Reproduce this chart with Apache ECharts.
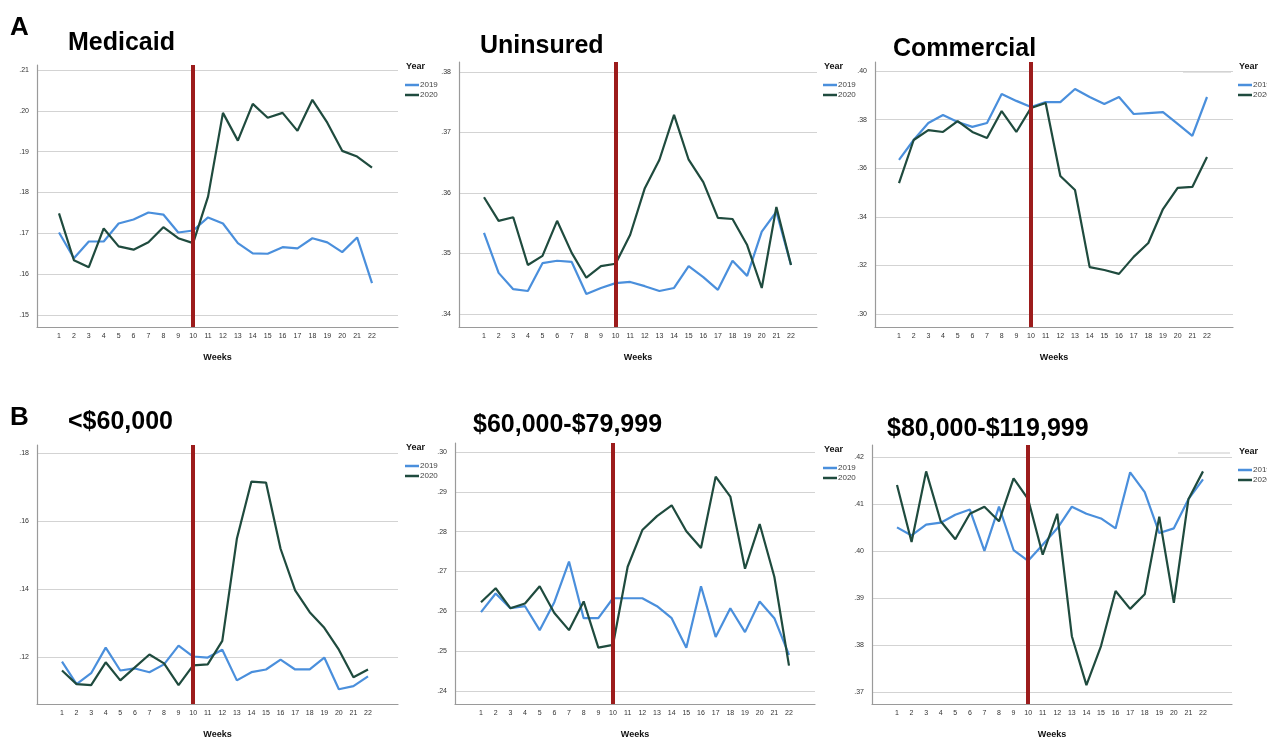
<!DOCTYPE html>
<html><head><meta charset="utf-8">
<script src="https://cdn.jsdelivr.net/npm/echarts@6/dist/echarts.min.js"></script>
<style>html,body{margin:0;padding:0;background:#fff}#c{width:1267px;height:740px}</style>
</head><body><div id="c"></div>
<script>
// ---- data ----
const weeks = [1,2,3,4,5,6,7,8,9,10,11,12,13,14,15,16,17,18,19,20,21,22];
const years = ['2019','2020'];
const titles = ['Medicaid','Uninsured','Commercial','<$60,000','$60,000-$79,999','$80,000-$119,999'];
const interventionWeek = 10;

const medicaid2019 = [.1702,.1639,.1680,.1680,.1724,.1734,.1751,.1746,.1702,.1707,.1739,.1724,.1676,.1651,.1650,.1666,.1663,.1688,.1678,.1654,.1690,.1578];
const medicaid2020 = [.1749,.1634,.1617,.1712,.1668,.1660,.1678,.1715,.1688,.1676,.1790,.1995,.1927,.2017,.1983,.1995,.1951,.2027,.1971,.1902,.1888,.1861];
const uninsured2019 = [.3534,.3468,.3441,.3438,.3484,.3488,.3486,.3433,.3443,.3451,.3453,.3446,.3438,.3443,.3479,.3461,.3440,.3488,.3463,.3536,.3569,.3481];
const uninsured2020 = [.3593,.3554,.3560,.3481,.3496,.3554,.3501,.3460,.3479,.3483,.3531,.3608,.3655,.3729,.3655,.3618,.3559,.3557,.3514,.3443,.3577,.3481];
const commercial2019 = [.3634,.3716,.3786,.3819,.3790,.3770,.3786,.3905,.3877,.3852,.3872,.3872,.3926,.3893,.3864,.3893,.3823,.3827,.3831,.3782,.3733,.3893];
const commercial2020 = [.3539,.3716,.3757,.3749,.3794,.3749,.3724,.3835,.3749,.3848,.3868,.3568,.3510,.3193,.3181,.3165,.3235,.3292,.3432,.3519,.3523,.3646];
const incUnder60k2019 = [.1188,.1122,.1154,.1229,.1162,.1168,.1157,.1180,.1235,.1203,.1200,.1223,.1133,.1157,.1165,.1194,.1165,.1165,.1200,.1107,.1116,.1145];
const incUnder60k2020 = [.1162,.1122,.1119,.1186,.1133,.1171,.1209,.1183,.1119,.1177,.1180,.1249,.1548,.1716,.1713,.1519,.1397,.1333,.1287,.1223,.1142,.1165];
const inc60to80k2019 = [.2598,.2645,.2608,.2613,.2553,.2623,.2725,.2583,.2583,.2633,.2633,.2633,.2613,.2583,.2509,.2663,.2536,.2608,.2548,.2625,.2583,.2491];
const inc60to80k2020 = [.2623,.2658,.2608,.2620,.2663,.2596,.2553,.2625,.2509,.2516,.2712,.2804,.2839,.2866,.2801,.2759,.2938,.2888,.2707,.2819,.2687,.2464];
const inc80to120k2019 = [.4050,.4033,.4056,.4060,.4077,.4088,.4000,.4094,.4002,.3979,.4013,.4048,.4094,.4079,.4069,.4048,.4167,.4125,.4038,.4048,.4110,.4152];
const inc80to120k2020 = [.4140,.4019,.4169,.4063,.4025,.4079,.4094,.4063,.4154,.4110,.3992,.4079,.3819,.3715,.3798,.3915,.3877,.3908,.4073,.3890,.4110,.4169];

const yTicksMedicaid = [.15,.16,.17,.18,.19,.20,.21];
const yTicksUninsured = [.34,.35,.36,.37,.38];
const yTicksCommercial = [.30,.32,.34,.36,.38,.40];
const yTicksUnder60k = [.12,.14,.16,.18];
const yTicks60to80k = [.24,.25,.26,.27,.28,.29,.30];
const yTicks80to120k = [.37,.38,.39,.40,.41,.42];

const seriesData = [
  [medicaid2019, medicaid2020],
  [uninsured2019, uninsured2020],
  [commercial2019, commercial2020],
  [incUnder60k2019, incUnder60k2020],
  [inc60to80k2019, inc60to80k2020],
  [inc80to120k2019, inc80to120k2020]
];
const yTicks = [yTicksMedicaid, yTicksUninsured, yTicksCommercial, yTicksUnder60k, yTicks60to80k, yTicks80to120k];

// ---- layout (pixels) ----
const layout = [
  {l:37,  r:398,  t:65,  b:327, yt:70,  yb:315, x1:59,  x22:372},
  {l:459, r:817,  t:62,  b:327, yt:72,  yb:314, x1:484, x22:791},
  {l:875, r:1233, t:62,  b:327, yt:71,  yb:314, x1:899, x22:1207},
  {l:37,  r:398,  t:445, b:707, yt:453, yb:660, x1:62,  x22:368},
  {l:455, r:815,  t:443, b:707, yt:452, yb:694, x1:481, x22:789},
  {l:872, r:1232, t:445, b:709, yt:457, yb:697, x1:897, x22:1203}
];
const titlePos = [[68,31],[480,34],[893,37],[68,410],[473,413],[887,417]];
const legendPos = [[400,62],[818,62],[1233,62],[400,443],[818,445],[1233,447]];

const C2019 = '#4a8fdc', C2020 = '#1f4b3e', CRED = '#9c1c1c';
const fmt = v => { const s = v.toFixed(2); return s.slice(s.indexOf('.')); };

const grid = [], xAxis = [], yAxis = [], series = [], legend = [], graphic = [];
layout.forEach((p, i) => {
  grid.push({left:p.l, top:p.t, width:p.r-p.l, height:p.b-p.t, containLabel:false});
  const tk = yTicks[i];
  const vTop = tk[tk.length-1], vBot = tk[0];
  const ppu = (p.yb - p.yt) / (vTop - vBot);
  const sp = (p.x22 - p.x1) / 21;
  xAxis.push({
    gridIndex:i, type:'value',
    min: 1 - (p.x1 - p.l)/sp, max: 22 + (p.r - p.x22)/sp,
    axisLine:{show:true, onZero:false, lineStyle:{color:'#9a9a9a', width:1.2}},
    axisTick:{show:false, customValues: weeks},
    axisLabel:{customValues: weeks, fontSize:7, color:'#333', margin:6, fontFamily:'Liberation Sans'},
    splitLine:{show:false},
    name:'Weeks', nameLocation:'middle', nameGap:26,
    nameTextStyle:{fontSize:9, fontWeight:'bold', color:'#111', fontFamily:'Liberation Sans'}
  });
  yAxis.push({
    gridIndex:i, type:'value',
    min: vBot - (p.b - p.yb)/ppu, max: vTop + (p.yt - p.t)/ppu,
    axisLine:{show:true, onZero:false, lineStyle:{color:'#9a9a9a', width:1.2}},
    axisTick:{show:false, customValues: tk},
    axisLabel:{customValues: tk, formatter: fmt, fontSize:7, color:'#333', margin:8, fontFamily:'Liberation Sans'},
    splitLine:{show:true, lineStyle:{color:'#d3d3d3', width:1}}
  });
  seriesData[i].forEach((arr, k) => {
    const s = {
      type:'line', name: years[k], xAxisIndex:i, yAxisIndex:i,
      data: weeks.map((w, j) => [w, arr[j]]),
      symbol:'none', silent:true,
      lineStyle:{width:2.2, color: k ? C2020 : C2019},
      itemStyle:{color: k ? C2020 : C2019},
      z: 2 + k
    };
    if (k === 1) s.markLine = {
      symbol:'none', silent:true, label:{show:false},
      lineStyle:{color:CRED, width:4, type:'solid'},
      data:[{xAxis: interventionWeek}]
    };
    series.push(s);
  });
  const lp = legendPos[i];
  graphic.push({type:'text', left:lp[0]+6, top:lp[1], style:{text:'Year', font:'bold 9px "Liberation Sans"', fill:'#111'}});
  legend.push({
    orient:'vertical', left:lp[0], top:lp[1]+13, data:years,
    icon:'rect', itemWidth:14, itemHeight:2.5, itemGap:0,
    textStyle:{fontSize:8, color:'#444', lineHeight:10, fontFamily:'Liberation Sans', padding:[0,0,0,-4]},
    selectedMode:false
  });
  graphic.push({type:'text', left:titlePos[i][0], top:titlePos[i][1], style:{text:titles[i], font:'bold 25px "Liberation Sans"', fill:'#000'}});
});
graphic.push({type:'text', left:10, top:15, style:{text:'A', font:'bold 26px "Liberation Sans"', fill:'#000'}});
graphic.push({type:'text', left:10, top:405, style:{text:'B', font:'bold 26px "Liberation Sans"', fill:'#000'}});
graphic.push({type:'line', shape:{x1:1183, y1:72, x2:1231, y2:72}, style:{stroke:'#c8c8c8', lineWidth:1}});
graphic.push({type:'line', shape:{x1:1178, y1:453, x2:1230, y2:453}, style:{stroke:'#c8c8c8', lineWidth:1}});

const chart = echarts.init(document.getElementById('c'), null, {renderer:'canvas'});
chart.setOption({animation:false, backgroundColor:'#fff', grid, xAxis, yAxis, series, legend, graphic});
</script>
</body></html>
